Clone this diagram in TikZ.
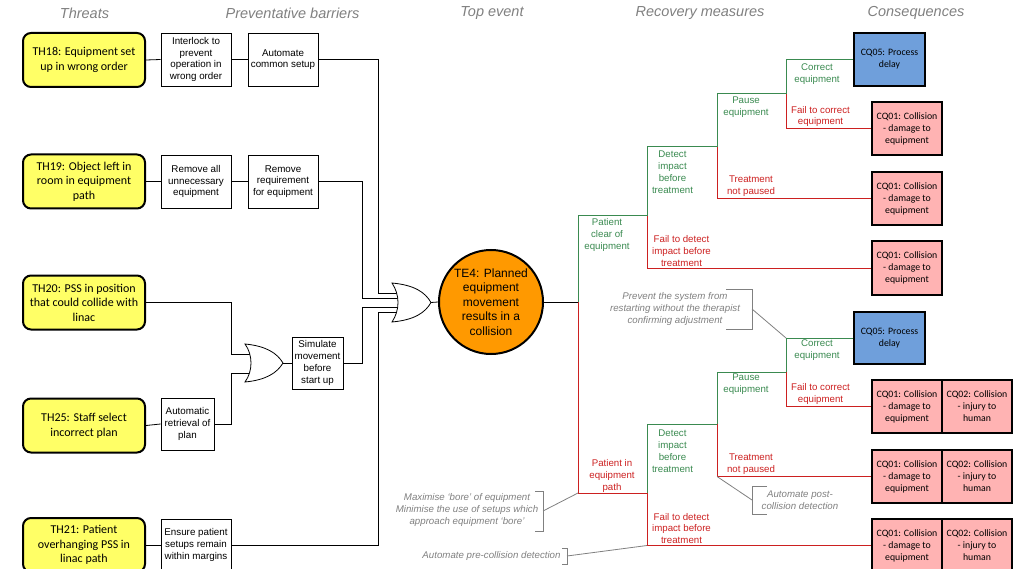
\documentclass[tikz,border=0pt]{standalone}
\usepackage{fontspec}
\setmainfont{Liberation Sans}
\newfontfamily\calfont{Carlito}
\usetikzlibrary{calc}
\definecolor{thr}{HTML}{FFFF66}
\definecolor{grn}{HTML}{3A8A50}
\definecolor{rd}{HTML}{CC2020}
\definecolor{cqb}{HTML}{6F9FDB}
\definecolor{cqr}{HTML}{FFB3B3}
\definecolor{org}{HTML}{FF9900}
\definecolor{gry}{HTML}{808080}
\newcommand\FThr{\calfont\fontsize{12}{14.6}\selectfont}
\newcommand\FCq{\calfont\fontsize{9.8}{12}\selectfont}
\newcommand\FBar{\fontsize{9.8}{11.7}\selectfont}
\newcommand\FLab{\fontsize{9.7}{11.9}\selectfont}
\newcommand\FNote{\fontsize{9.7}{12}\selectfont\itshape}
\newcommand\FHead{\fontsize{14.5}{17}\selectfont\itshape}
\newcommand\FTop{\fontsize{12}{14.5}\selectfont}
\begin{document}
\begin{tikzpicture}[x=1pt,y=-1pt,
  threat/.style={draw, line width=2pt, fill=thr, rounded corners=8pt, minimum width=122pt, minimum height=54pt, inner sep=0pt, align=center, font=\FThr},
  barrier/.style={draw, line width=0.8pt, fill=white, minimum width=70pt, minimum height=53pt, inner sep=0pt, align=center, font=\FBar},
  cqbox/.style={draw, line width=2pt, minimum width=70pt, minimum height=53pt, inner sep=0pt, align=center, font=\FCq},
  glab/.style={text=grn, align=center, font=\FLab, inner sep=0pt},
  rlab/.style={text=rd, align=center, font=\FLab, inner sep=0pt},
  note/.style={text=gry, align=center, font=\FNote, inner sep=0pt},
  head/.style={text=gry, font=\FHead, inner sep=0pt},
  wire/.style={line width=0.8pt},
  gline/.style={draw=grn, line width=1pt},
  rline/.style={draw=rd, line width=1pt},
  brk/.style={draw=gry, line width=0.8pt},
  gate/.style={draw, line width=0.8pt, fill=white}]
\useasboundingbox (0,0) rectangle (1019,569);
\clip (0,0) rectangle (1019,569);

% headers
\node[head] (h1) at (84.5,13) {Threats};
\node[head] (h2) at (292.5,13) {Preventative barriers};
\node[head] (h3) at (492,13) {Top event};
\node[head] (h4) at (700,13) {Recovery measures};
\node[head] (h5) at (916,13) {Consequences};

% threats
\node[threat] (t18) at (84,60) {TH18: Equipment set\\up in wrong order};
\node[threat] (t19) at (84,181.5) {TH19: Object left in\\room in equipment\\path};
\node[threat] (t20) at (84,302.5) {TH20: PSS in position\\that could collide with\\linac};
\node[threat] (t25) at (84,425.5) {TH25: Staff select\\incorrect plan};
\node[threat] (t21) at (84,545) {TH21: Patient\\overhanging PSS in\\linac path};

% barriers
\node[barrier] (b1) at (196,59.5) {Interlock to\\prevent\\operation in\\wrong order};
\node[barrier] (b2) at (283,59.5) {Automate\\common setup};
\node[barrier] (b3) at (196,181.5) {Remove all\\unnecessary\\equipment};
\node[barrier] (b4) at (283,181.5) {Remove\\requirement\\for equipment};
\node[barrier, minimum width=51pt, minimum height=52pt] (b5) at (317.5,363) {Simulate\\movement\\before\\start up};
\node[barrier, minimum width=53pt, minimum height=52pt] (b6) at (187.5,424) {Automatic\\retrieval of\\plan};
\node[barrier, minimum height=52pt] (b7) at (196,545) {Ensure patient\\setups remain\\within margins};

% top event
\node[circle, draw, line width=2pt, fill=org, minimum size=104pt, inner sep=0pt, align=center, font=\FTop] (te) at (491,302) {TE4: Planned\\equipment\\movement\\results in a\\collision};

% gate coordinates
\coordinate (g1a) at (401,293);
\coordinate (g1b) at (401,298);
\coordinate (g1c) at (401,307);
\coordinate (g1d) at (401,312);
\coordinate (g1o) at (431,302.5);
\coordinate (g2a) at (252,354);
\coordinate (g2b) at (252,373);
\coordinate (g2o) at (283,363);
\coordinate (bxo) at (378.5,0);
\coordinate (bxi) at (362,0);
\coordinate (bxs) at (231,0);

% left wires
\draw[wire] (t18.east) -- (b1.west);
\draw[wire] (b1.east) -- (b2.west);
\draw[wire] (t19.east) -- (b3.west);
\draw[wire] (b3.east) -- (b4.west);
\draw[wire] (t25.east) -- (b6.west);
\draw[wire] (t21.east) -- (b7.west);
\draw[wire] (b2.east) -| (g1a -| bxo) -- (g1a);
\draw[wire] (b4.east) -| (g1b -| bxi) -- (g1b);
\draw[wire] (b5.east) -| (g1c -| bxi) -- (g1c);
\draw[wire] (b7.east) -| (g1d -| bxo) -- (g1d);
\draw[wire] (t20.east) -| (g2a -| bxs) -- (g2a);
\draw[wire] (b6.east) -| (g2b -| bxs) -- (g2b);
\draw[wire] (g2o) -- (b5.west);
\draw[wire] (g1o) -- (te.west);

% gates
\draw[gate] (392,283) .. controls (414,285) and (425,292) .. (g1o) .. controls (425,313) and (414,320) .. (392,322) .. controls (400,310) and (400,295) .. cycle;
\draw[gate] (245,344) .. controls (266,346) and (277,353) .. (g2o) .. controls (277,373) and (266,380) .. (245,382) .. controls (253,371) and (253,355) .. cycle;

% consequences
\node[cqbox, fill=cqb, minimum width=71pt] (c1) at (889.5,59.5) {CQ05: Process\\delay};
\node[cqbox, fill=cqr] (c2) at (907,129) {CQ01: Collision\\- damage to\\equipment};
\node[cqbox, fill=cqr] (c3) at (907,198.5) {CQ01: Collision\\- damage to\\equipment};
\node[cqbox, fill=cqr] (c4) at (907,268) {CQ01: Collision\\- damage to\\equipment};
\node[cqbox, fill=cqb, minimum width=71pt, minimum height=52pt] (c5) at (889.5,338) {CQ05: Process\\delay};
\node[cqbox, fill=cqr] (c6) at (907,406.5) {CQ01: Collision\\- damage to\\equipment};
\node[cqbox, fill=cqr] (c6b) at (977,406.5) {CQ02: Collision\\- injury to\\human};
\node[cqbox, fill=cqr] (c7) at (907,476.5) {CQ01: Collision\\- damage to\\equipment};
\node[cqbox, fill=cqr] (c7b) at (977,476.5) {CQ02: Collision\\- injury to\\human};
\node[cqbox, fill=cqr] (c8) at (907,545.5) {CQ01: Collision\\- damage to\\equipment};
\node[cqbox, fill=cqr] (c8b) at (977,545.5) {CQ02: Collision\\- injury to\\human};

% event tree junctions
\coordinate (a0) at (578,302);
\coordinate (u1) at (647,216);
\coordinate (u2) at (717,147);
\coordinate (u3) at (786,94);
\coordinate (l1) at (647,493);
\coordinate (l2) at (717,424);
\coordinate (l3) at (786,372);

\draw[wire] (te.east) -- (a0);
% upper branch
\draw[gline] (a0) |- (u1);
\draw[gline] (u1) |- (u2);
\draw[gline] (u2) |- (u3);
\draw[gline] (u3) |- (c1.west);
\draw[rline] (u3) |- (c2.west);
\draw[rline] (u2) |- (c3.west);
\draw[rline] (u1) |- (c4.west);
% lower branch
\draw[rline] (a0) |- (l1);
\draw[gline] (l1) |- (l2);
\draw[gline] (l2) |- (l3);
\draw[gline] (l3) |- (c5.west);
\draw[rline] (l3) |- (c6.west);
\draw[rline] (l2) |- (c7.west);
\draw[rline] (l1) |- (c8.west);

% branch labels upper
\node[glab] (p1) at (607,235) {Patient\\clear of\\equipment};
\node[glab] (p2) at (672.5,172.5) {Detect\\impact\\before\\treatment};
\node[rlab] (p3) at (681.5,251) {Fail to detect\\impact before\\treatment};
\node[glab] (p4) at (746,107) {Pause\\equipment};
\node[rlab] (p5) at (751,186.5) {Treatment\\not paused};
\node[glab] (p6) at (817,74) {Correct\\equipment};
\node[rlab] (p7) at (820.5,116.5) {Fail to correct\\equipment};
% branch labels lower
\node[rlab] (q1) at (612,476) {Patient in\\equipment\\path};
\node[glab] (q2) at (672.5,451.5) {Detect\\impact\\before\\treatment};
\node[rlab] (q3) at (681.5,528.5) {Fail to detect\\impact before\\treatment};
\node[glab] (q4) at (746,384.5) {Pause\\equipment};
\node[rlab] (q5) at (751,464) {Treatment\\not paused};
\node[glab] (q6) at (817,350.5) {Correct\\equipment};
\node[rlab] (q7) at (820.5,394) {Fail to correct\\equipment};

% annotations
\node[note] (n1) at (675,309) {Prevent the system from\\restarting without the therapist\\confirming adjustment};
\draw[brk] (726,289) -- (752,289) -- (752,329) -- (726,329);
\coordinate (n1b) at (752,309);
\draw[brk] (n1b) -- (l3 |- c5.west);

\node[note] (n2) at (800,500) {Automate post-\\collision detection};
\draw[brk] (767,486) -- (752,486) -- (752,514) -- (767,514);
\coordinate (n2b) at (752,500);
\draw[brk] (n2b) -- (l2 |- c7.west);

\node[note] (n3) at (467,510) {Maximise ‘bore’ of equipment\\Minimise the use of setups which\\approach equipment ‘bore’};
\draw[brk] (535,491) -- (543,491) -- (543,531) -- (535,531);
\coordinate (n3b) at (543,511);
\draw[brk] (n3b) -- (a0 |- l1);

\node[note] (n4) at (491.5,556) {Automate pre-collision detection};
\draw[brk] (562,548) -- (567,548) -- (567,564) -- (562,564);
\coordinate (n4b) at (567,556);
\draw[brk] (n4b) -- (l1 |- c8.west);
\end{tikzpicture}
\end{document}
